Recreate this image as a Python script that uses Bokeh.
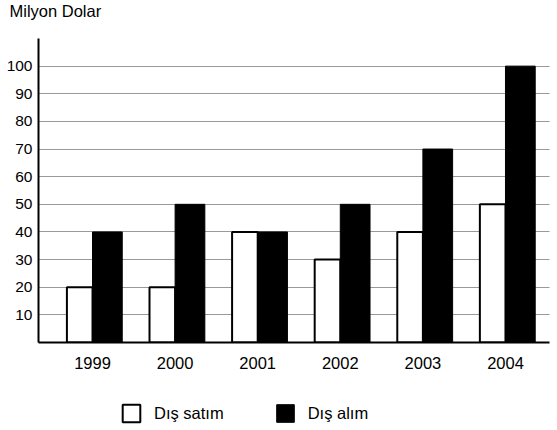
from bokeh.plotting import figure
from bokeh.layouts import column
from bokeh.models import FixedTicker, Legend, LegendItem, Range1d, Title, ColumnDataSource
from bokeh.transform import dodge
from bokeh.embed import file_html
from bokeh.resources import INLINE

years = ["1999", "2000", "2001", "2002", "2003", "2004"]
dis_satim = [20, 20, 40, 30, 40, 50]
dis_alim = [40, 50, 40, 50, 70, 100]
y_ticks = [10, 20, 30, 40, 50, 60, 70, 80, 90, 100]
unit_label = "Milyon Dolar"
series_names = ["Dış satım", "Dış alım"]

FONT = "Liberation Sans"
W = 557

idx = list(range(len(years)))
src = ColumnDataSource(dict(x=idx, satim=dis_satim, alim=dis_alim))

# --- title strip -----------------------------------------------------------
pt = figure(width=W, height=38, output_backend="svg", toolbar_location=None,
            x_range=Range1d(0, 1), y_range=Range1d(0, 1),
            x_axis_location=None, y_axis_location=None,
            min_border_left=38, min_border_right=8, min_border_top=0, min_border_bottom=0)
pt.outline_line_color = None
pt.grid.visible = False
pt.title = Title(text=unit_label, align="left", offset=-29, standoff=2,
                 vertical_align="top", text_font=FONT, text_font_size="16.5px",
                 text_font_style="normal", text_color="black")

# --- main chart ------------------------------------------------------------
p = figure(width=W, height=352, output_backend="svg", toolbar_location=None,
           x_range=Range1d(-0.654, 5.533), y_range=Range1d(0, 110),
           min_border_left=38, min_border_right=8, min_border_top=0,
           min_border_bottom=48)
p.outline_line_color = None

w_white = 0.31
w_black = 0.36
white_style = dict(fill_color="white", line_color="black", line_width=2)
black_style = dict(fill_color="black", line_color="black", line_width=1)
p.vbar(x=dodge("x", -w_white / 2, range=p.x_range), top="satim", width=w_white,
       bottom=0, source=src, **white_style)
p.vbar(x=dodge("x", w_black / 2, range=p.x_range), top="alim", width=w_black,
       bottom=0, source=src, **black_style)

p.xgrid.visible = False
p.ygrid.ticker = FixedTicker(ticks=y_ticks)
p.ygrid.grid_line_color = "#333333"
p.ygrid.grid_line_dash = "1 1"
p.ygrid.grid_line_width = 1

p.yaxis.ticker = FixedTicker(ticks=y_ticks)
p.xaxis.ticker = FixedTicker(ticks=idx)
p.xaxis.major_label_overrides = {i: y for i, y in zip(idx, years)}
for ax in (p.xaxis, p.yaxis):
    ax.axis_line_width = 2
    ax.axis_line_color = "black"
    ax.major_tick_out = 0
    ax.major_tick_in = 0
    ax.minor_tick_out = 0
    ax.minor_tick_in = 0
    ax.major_label_text_font = FONT
    ax.major_label_text_color = "black"
p.yaxis.major_label_text_font_size = "15.5px"
p.xaxis.major_label_text_font_size = "16.5px"
p.yaxis.major_label_standoff = 6
p.xaxis.major_label_standoff = 14

# --- legend strip (hidden renderers, only their legend swatches show) -------
pl = figure(width=W, height=40, output_backend="svg", toolbar_location=None,
            x_range=Range1d(-0.654, 5.533), y_range=Range1d(0, 110),
            x_axis_location=None, y_axis_location=None,
            min_border_left=38, min_border_right=8, min_border_top=0, min_border_bottom=0)
pl.outline_line_color = None
pl.grid.visible = False
lr1 = pl.vbar(x="x", top="satim", bottom=0, width=w_white, source=src, visible=False,
              **white_style)
lr2 = pl.vbar(x="x", top="alim", bottom=0, width=w_black, source=src, visible=False,
              **black_style)
legend = Legend(items=[LegendItem(label=series_names[0], renderers=[lr1]),
                       LegendItem(label=series_names[1], renderers=[lr2])],
                orientation="horizontal", location=(82, 6),
                glyph_width=22, glyph_height=22, label_standoff=12, spacing=50,
                padding=0, margin=0, border_line_color=None, background_fill_alpha=0,
                inactive_fill_alpha=0,
                label_text_font=FONT, label_text_font_size="16.5px",
                label_text_color="black")
pl.add_layout(legend)

layout = column(pt, p, pl, spacing=0)
open("out.html", "w").write(file_html(layout, INLINE))
